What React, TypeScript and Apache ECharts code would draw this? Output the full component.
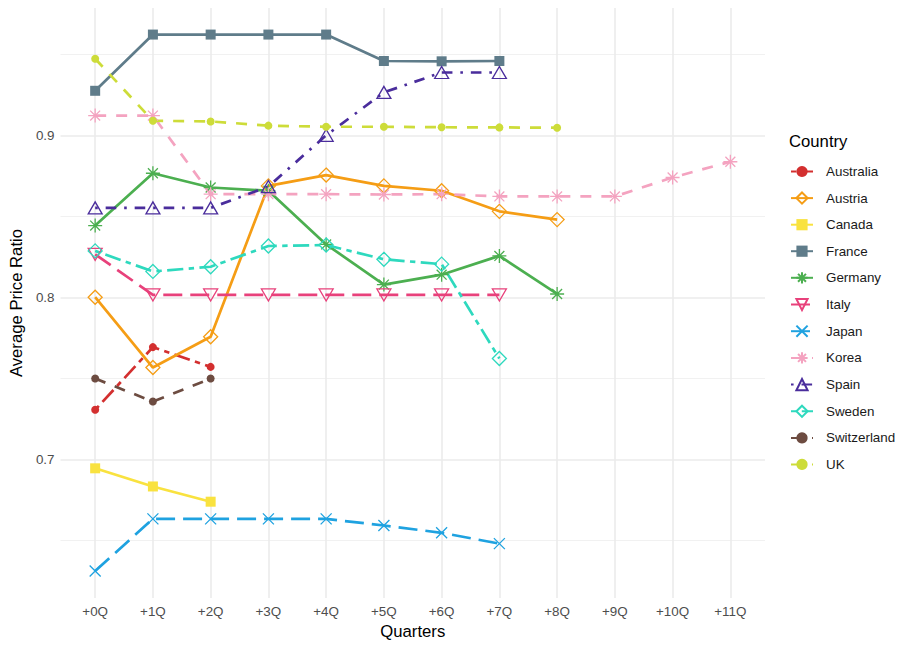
import React, { useEffect, useRef } from "react";
import * as echarts from "echarts";

const quarters = ["+0Q", "+1Q", "+2Q", "+3Q", "+4Q", "+5Q", "+6Q", "+7Q", "+8Q", "+9Q", "+10Q", "+11Q"];
const quarterIndex = [0, 1, 2, 3, 4, 5, 6, 7, 8, 9, 10, 11];
const yMajorTicks = [0.7, 0.8, 0.9];
const yMinorTicks = [0.65, 0.75, 0.85, 0.95];

const australia = [0.7306, 0.7693, 0.7571];
const austria = [0.8001, 0.7567, 0.7757, 0.8688, 0.8755, 0.8688, 0.8658, 0.8531, 0.848];
const canada = [0.6945, 0.6833, 0.6739];
const france = [0.9275, 0.9622, 0.9622, 0.9622, 0.9622, 0.9459, 0.9457, 0.9459];
const germany = [0.8443, 0.8766, 0.8678, 0.8658, 0.8327, 0.8079, 0.814, 0.8256, 0.8021];
const italy = [0.8266, 0.8015, 0.8015, 0.8015, 0.8015, 0.8015, 0.8015, 0.8015];
const japan = [0.6311, 0.6633, 0.6633, 0.6633, 0.6633, 0.6592, 0.6547, 0.648];
const korea = [0.9122, 0.9122, 0.8637, 0.8637, 0.8637, 0.8635, 0.8637, 0.8623, 0.8623, 0.8623, 0.874, 0.8837];
const spain = [0.8552, 0.8552, 0.8552, 0.8684, 0.9, 0.9265, 0.9388, 0.9388];
const sweden = [0.8287, 0.816, 0.8189, 0.8317, 0.8323, 0.8235, 0.8205, 0.7623];
const switzerland = [0.7499, 0.7357, 0.7499];
const uk = [0.9473, 0.909, 0.9086, 0.906, 0.9053, 0.9053, 0.905, 0.9049, 0.9047];

const FONT = "'Liberation Sans', Arial, Helvetica, sans-serif";

const DASHED = [11, 10];
const LONGDASH = [19, 8];
const DOTDASH = [2.6, 7.9, 10.6, 7.9];
const TWODASH = [5.4, 5.4, 16.2, 5.4];

const P_DIAMOND = "path://M5,0L10,5L5,10L0,5Z";
const P_TRI_UP = "path://M0,8.66L5,0L10,8.66Z";
const P_TRI_DOWN = "path://M0,0L10,0L5,8.66Z";
const P_ASTER = "path://M5,0L5,10M0,5L10,5M1.46,1.46L8.54,8.54M8.54,1.46L1.46,8.54";
const P_X = "path://M0,0L10,10M10,0L0,10";

type Spec = {
  name: string;
  values: number[];
  color: string;
  dash: number[] | "solid";
  symbol: string;
  size: number | number[];
  open: boolean;
};

const specs: Spec[] = [
  { name: "Australia", values: australia, color: "#D32F2F", dash: TWODASH, symbol: "circle", size: 8, open: false },
  { name: "Austria", values: austria, color: "#F59D15", dash: "solid", symbol: P_DIAMOND, size: 14, open: true },
  { name: "Canada", values: canada, color: "#F9E23F", dash: "solid", symbol: "rect", size: 10, open: false },
  { name: "France", values: france, color: "#5F7C8A", dash: "solid", symbol: "rect", size: 10, open: false },
  { name: "Germany", values: germany, color: "#4CAF50", dash: "solid", symbol: P_ASTER, size: 14, open: true },
  { name: "Italy", values: italy, color: "#E8417B", dash: LONGDASH, symbol: P_TRI_DOWN, size: [14, 12], open: true },
  { name: "Japan", values: japan, color: "#1FA2E0", dash: LONGDASH, symbol: P_X, size: 11, open: true },
  { name: "Korea", values: korea, color: "#F4A3C0", dash: DASHED, symbol: P_ASTER, size: 14, open: true },
  { name: "Spain", values: spain, color: "#4A2D9C", dash: DOTDASH, symbol: P_TRI_UP, size: [14, 12], open: true },
  { name: "Sweden", values: sweden, color: "#2ED9BE", dash: TWODASH, symbol: P_DIAMOND, size: 14, open: true },
  { name: "Switzerland", values: switzerland, color: "#6D4C41", dash: DASHED, symbol: "circle", size: 8, open: false },
  { name: "UK", values: uk, color: "#CDDC39", dash: DASHED, symbol: "circle", size: 8, open: false },
];

export default function App() {
  const ref = useRef<HTMLDivElement>(null);
  useEffect(() => {
    const chart = echarts.init(ref.current!, null, { renderer: "svg" });
    const series = specs.map((s) => ({
      name: s.name,
      type: "line",
      data: s.values.map((v, i) => [quarterIndex[i], v]),
      symbol: s.symbol,
      symbolSize: s.size,
      showSymbol: true,
      silent: true,
      emphasis: { disabled: true },
      lineStyle: { color: s.color, width: 2.7, type: s.dash, cap: "butt" },
      itemStyle: s.open
        ? { color: "rgba(0,0,0,0)", borderColor: s.color, borderWidth: 1.3 }
        : { color: s.color, borderWidth: 0 },
    }));
    chart.setOption({
      animation: false,
      backgroundColor: "#ffffff",
      textStyle: { fontFamily: FONT },
      title: {
        text: "Country",
        left: 789,
        top: 133,
        padding: 0,
        textStyle: { fontFamily: FONT, fontSize: 16.7, fontWeight: "normal", color: "#000" },
      },
      legend: {
        orient: "vertical",
        left: 790,
        top: 165,
        padding: 0,
        itemWidth: 22,
        itemHeight: 14,
        itemGap: 13.5,
        data: specs.map((s) => s.name),
        textStyle: { fontFamily: FONT, fontSize: 13.4, color: "#1a1a1a", padding: [0, 0, 0, 8] },
        selectedMode: false,
      },
      grid: { left: 56, right: 133, top: 8, bottom: 43, containLabel: false },
      xAxis: {
        type: "value",
        min: -0.6,
        max: 11.6,
        name: "Quarters",
        nameLocation: "middle",
        nameGap: 24,
        nameTextStyle: { fontFamily: FONT, fontSize: 16.7, color: "#000" },
        axisLine: { show: false },
        axisTick: { show: false, customValues: quarterIndex },
        axisLabel: {
          customValues: quarterIndex,
          formatter: (v: number) => quarters[Math.round(v)],
          fontFamily: FONT,
          fontSize: 13.4,
          color: "#4D4D4D",
          margin: 7,
        },
        splitLine: { show: true, lineStyle: { color: "#EBEBEB", width: 1.6 } },
      },
      yAxis: [
        {
          type: "value",
          min: 0.6144,
          max: 0.9786,
          name: "Average Price Ratio",
          nameLocation: "middle",
          nameGap: 28,
          nameRotate: 90,
          nameTextStyle: { fontFamily: FONT, fontSize: 16.7, color: "#000" },
          axisLine: { show: false },
          axisTick: { show: false, customValues: yMajorTicks },
          axisLabel: {
            customValues: yMajorTicks,
            formatter: (v: number) => v.toFixed(1),
            fontFamily: FONT,
            fontSize: 13.4,
            color: "#4D4D4D",
            margin: 6,
          },
          splitLine: { show: true, lineStyle: { color: "#EBEBEB", width: 1.6 } },
          z: 1,
        },
        {
          type: "value",
          min: 0.6144,
          max: 0.9786,
          position: "left",
          offset: 0,
          axisLine: { show: false },
          axisTick: { show: false, customValues: yMinorTicks },
          axisLabel: { show: false, customValues: yMinorTicks },
          splitLine: { show: true, lineStyle: { color: "#EFEFEF", width: 0.9 } },
          z: 0,
        },
      ],
      series,
    });
    return () => chart.dispose();
  }, []);
  return (
    <div
      ref={ref}
      style={{ position: "fixed", left: 0, top: 0, width: 898, height: 645, background: "#fff" }}
    />
  );
}
